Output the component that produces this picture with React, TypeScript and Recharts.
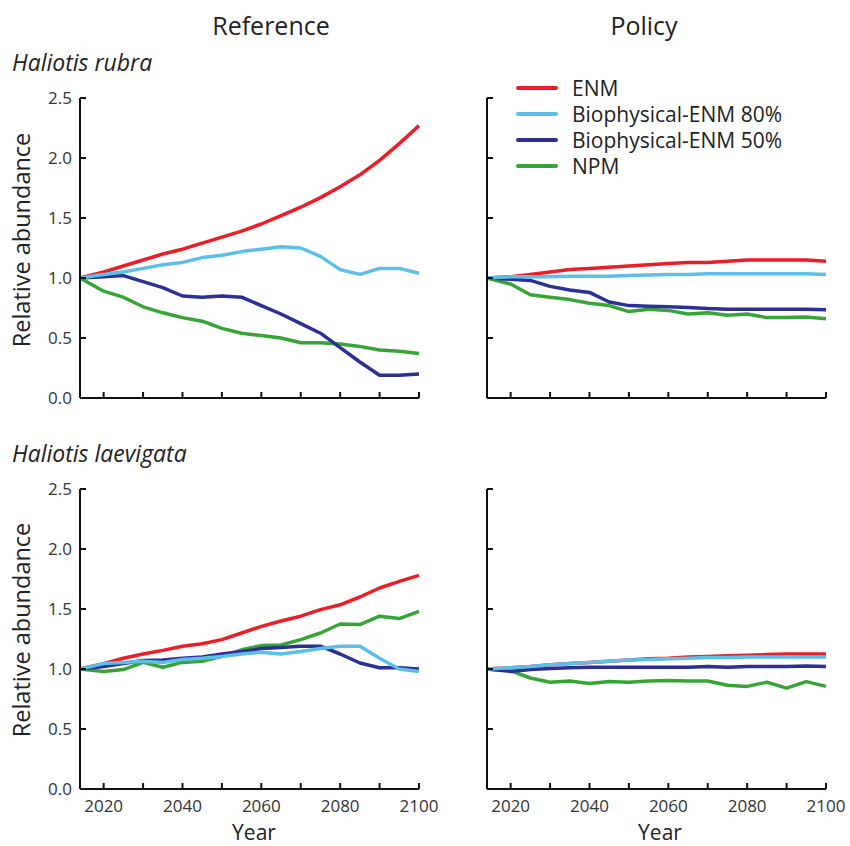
import { LineChart, Line, XAxis, YAxis, Legend } from "recharts";

const FONT = "'Open Sans', sans-serif";

const years = [2014, 2020, 2025, 2030, 2035, 2040, 2045, 2050, 2055, 2060, 2065, 2070, 2075, 2080, 2085, 2090, 2095, 2100];
const xTicks = [2020, 2030, 2040, 2050, 2060, 2070, 2080, 2090, 2100];
const yTicks = [0, 0.5, 1, 1.5, 2, 2.5];

const seriesKeys = ["enm", "bio80", "bio50", "npm"];
const seriesNames = ["ENM", "Biophysical-ENM 80%", "Biophysical-ENM 50%", "NPM"];
const seriesColors = ["#ee1c25", "#5cbfe8", "#2b2f96", "#37a535"];
// draw order: red underneath, light blue on top
const drawOrder = ["enm", "npm", "bio50", "bio80"];

// Haliotis rubra — Reference
const rubraRefEnm = [1.0, 1.05, 1.1, 1.15, 1.2, 1.24, 1.29, 1.34, 1.39, 1.45, 1.52, 1.59, 1.67, 1.76, 1.86, 1.98, 2.12, 2.27];
const rubraRefBio80 = [1.0, 1.03, 1.05, 1.08, 1.11, 1.13, 1.17, 1.19, 1.22, 1.24, 1.26, 1.25, 1.18, 1.07, 1.03, 1.08, 1.08, 1.04];
const rubraRefBio50 = [1.0, 1.01, 1.02, 0.97, 0.92, 0.85, 0.84, 0.85, 0.84, 0.77, 0.7, 0.62, 0.54, 0.42, 0.3, 0.19, 0.19, 0.2];
const rubraRefNpm = [1.0, 0.89, 0.84, 0.76, 0.71, 0.67, 0.64, 0.58, 0.54, 0.52, 0.5, 0.46, 0.46, 0.45, 0.43, 0.4, 0.39, 0.37];

// Haliotis rubra — Policy
const rubraPolEnm = [1.0, 1.01, 1.03, 1.05, 1.07, 1.08, 1.09, 1.1, 1.11, 1.12, 1.13, 1.13, 1.14, 1.15, 1.15, 1.15, 1.15, 1.14];
const rubraPolBio80 = [1.0, 1.01, 1.01, 1.01, 1.015, 1.015, 1.015, 1.02, 1.025, 1.03, 1.03, 1.035, 1.035, 1.035, 1.035, 1.035, 1.035, 1.03];
const rubraPolBio50 = [1.0, 0.99, 0.98, 0.93, 0.9, 0.88, 0.8, 0.77, 0.765, 0.76, 0.755, 0.745, 0.74, 0.74, 0.74, 0.74, 0.74, 0.735];
const rubraPolNpm = [1.0, 0.95, 0.86, 0.84, 0.82, 0.79, 0.77, 0.72, 0.74, 0.73, 0.7, 0.71, 0.69, 0.7, 0.67, 0.67, 0.675, 0.66];

// Haliotis laevigata — Reference
const laevRefEnm = [1.0, 1.045, 1.09, 1.125, 1.155, 1.19, 1.21, 1.245, 1.3, 1.355, 1.4, 1.44, 1.495, 1.535, 1.6, 1.675, 1.73, 1.78];
const laevRefBio80 = [1.0, 1.045, 1.055, 1.065, 1.055, 1.08, 1.09, 1.105, 1.125, 1.14, 1.125, 1.145, 1.17, 1.19, 1.19, 1.09, 1.0, 0.98];
const laevRefBio50 = [1.0, 1.02, 1.045, 1.07, 1.075, 1.09, 1.1, 1.125, 1.145, 1.17, 1.18, 1.19, 1.19, 1.125, 1.05, 1.01, 1.01, 1.0];
const laevRefNpm = [1.0, 0.98, 0.995, 1.055, 1.015, 1.055, 1.065, 1.105, 1.16, 1.195, 1.2, 1.245, 1.3, 1.375, 1.37, 1.44, 1.42, 1.48];

// Haliotis laevigata — Policy
const laevPolEnm = [1.0, 1.01, 1.02, 1.035, 1.045, 1.055, 1.065, 1.075, 1.085, 1.09, 1.1, 1.105, 1.11, 1.115, 1.12, 1.125, 1.125, 1.125];
const laevPolBio80 = [1.0, 1.01, 1.02, 1.035, 1.045, 1.055, 1.065, 1.075, 1.08, 1.085, 1.09, 1.095, 1.095, 1.1, 1.1, 1.1, 1.1, 1.1];
const laevPolBio50 = [1.0, 0.98, 0.995, 1.005, 1.01, 1.015, 1.015, 1.015, 1.015, 1.015, 1.015, 1.02, 1.015, 1.02, 1.02, 1.02, 1.025, 1.02];
const laevPolNpm = [1.0, 0.985, 0.925, 0.89, 0.9, 0.88, 0.895, 0.89, 0.9, 0.905, 0.9, 0.9, 0.865, 0.855, 0.89, 0.84, 0.895, 0.855];

const buildRows = (enm: number[], bio80: number[], bio50: number[], npm: number[]) =>
  years.map((year, i) => ({ year, enm: enm[i], bio80: bio80[i], bio50: bio50[i], npm: npm[i] }));

const XTick = ({ x, y, payload, showLabel }: any) => (
  <g>
    <line x1={x} x2={x} y1={y} y2={y - 6} stroke="#111" strokeWidth={2} />
    {showLabel && payload.value % 20 === 0 && (
      <text x={x} y={y + 23} textAnchor="middle" fontSize={17} fill="#333" fontFamily={FONT}>
        {payload.value}
      </text>
    )}
  </g>
);

const YTick = ({ x, y, payload, showLabel }: any) => (
  <g>
    <line x1={x} x2={x + 6} y1={y} y2={y} stroke="#111" strokeWidth={2} />
    {showLabel && (
      <text x={x - 8} y={y} dy="0.35em" textAnchor="end" fontSize={17} fill="#333" fontFamily={FONT}>
        {payload.value.toFixed(1)}
      </text>
    )}
  </g>
);

const LegendBox = ({ payload }: any) => {
  const items = seriesKeys.map((k) => payload?.find((p: any) => p.dataKey === k)).filter(Boolean);
  return (
    <div style={{ fontFamily: FONT, fontSize: 21, color: "#222", whiteSpace: "nowrap" }}>
      {items.map((p: any) => (
        <div key={p.dataKey} style={{ display: "flex", alignItems: "center", height: 26 }}>
          <span style={{ width: 42, height: 4, background: p.color, marginRight: 14, borderRadius: 2 }} />
          <span>{p.value}</span>
        </div>
      ))}
    </div>
  );
};

type PanelProps = {
  rows: any[];
  left: number;
  top: number;
  width: number;
  height: number;
  margin: { top: number; right: number; left: number; bottom: number };
  yWidth: number;
  xHeight: number;
  yLabels: boolean;
  xLabels: boolean;
  legend?: boolean;
};

const Panel = ({ rows, left, top, width, height, margin, yWidth, xHeight, yLabels, xLabels, legend }: PanelProps) => (
  <div style={{ position: "absolute", left, top }}>
    <LineChart width={width} height={height} data={rows} margin={margin}>
      <XAxis
        type="number"
        dataKey="year"
        domain={[2014, 2100]}
        ticks={xTicks}
        height={xHeight}
        tickSize={0}
        tickMargin={0}
        tickLine={false}
        axisLine={{ stroke: "#111", strokeWidth: 2 }}
        tick={(p: any) => <XTick {...p} showLabel={xLabels} />}
        interval={0}
      />
      <YAxis
        type="number"
        domain={[0, 2.5]}
        ticks={yTicks}
        width={yWidth}
        tickSize={0}
        tickMargin={0}
        tickLine={false}
        axisLine={{ stroke: "#111", strokeWidth: 2 }}
        tick={(p: any) => <YTick {...p} showLabel={yLabels} />}
        interval={0}
      />
      {legend && (
        <Legend
          layout="vertical"
          align="center"
          verticalAlign="middle"
          content={<LegendBox />}
          wrapperStyle={{ position: "absolute", left: 86, top: 35, width: "auto" }}
        />
      )}
      {drawOrder.map((k) => {
        const i = seriesKeys.indexOf(k);
        return (
          <Line
            key={k}
            type="linear"
            dataKey={k}
            name={seriesNames[i]}
            stroke={seriesColors[i]}
            strokeWidth={3.5}
            strokeLinejoin="round"
            dot={false}
            isAnimationActive={false}
          />
        );
      })}
    </LineChart>
  </div>
);

const App = () => {
  const textStyle = { fontFamily: FONT, fill: "#222" };
  return (
    <div style={{ position: "absolute", left: 0, top: 0, width: 850, height: 846, background: "#fff", overflow: "hidden" }}>
      <Panel
        rows={buildRows(rubraRefEnm, rubraRefBio80, rubraRefBio50, rubraRefNpm)}
        left={0} top={40} width={445} height={380}
        margin={{ top: 58, right: 26, left: 0, bottom: 0 }}
        yWidth={80} xHeight={22} yLabels xLabels={false}
      />
      <Panel
        rows={buildRows(laevRefEnm, laevRefBio80, laevRefBio50, laevRefNpm)}
        left={0} top={440} width={445} height={406}
        margin={{ top: 49, right: 26, left: 0, bottom: 0 }}
        yWidth={80} xHeight={57} yLabels xLabels
      />
      <Panel
        rows={buildRows(rubraPolEnm, rubraPolBio80, rubraPolBio50, rubraPolNpm)}
        left={430} top={40} width={420} height={380}
        margin={{ top: 58, right: 24, left: 0, bottom: 0 }}
        yWidth={57} xHeight={22} yLabels={false} xLabels={false} legend
      />
      <Panel
        rows={buildRows(laevPolEnm, laevPolBio80, laevPolBio50, laevPolNpm)}
        left={430} top={440} width={420} height={406}
        margin={{ top: 49, right: 24, left: 0, bottom: 0 }}
        yWidth={57} xHeight={57} yLabels={false} xLabels
      />
      <svg width={850} height={846} style={{ position: "absolute", left: 0, top: 0, pointerEvents: "none" }}>
        <text x={271} y={35} textAnchor="middle" fontSize={25} style={textStyle}>Reference</text>
        <text x={644} y={35} textAnchor="middle" fontSize={25} style={textStyle}>Policy</text>
        <text x={12} y={71} fontSize={23} fontStyle="italic" style={textStyle}>Haliotis rubra</text>
        <text x={12} y={462} fontSize={23} fontStyle="italic" style={textStyle}>Haliotis laevigata</text>
        <text transform="rotate(-90)" x={-240} y={30} textAnchor="middle" fontSize={23.5} style={textStyle}>Relative abundance</text>
        <text transform="rotate(-90)" x={-630} y={30} textAnchor="middle" fontSize={23.5} style={textStyle}>Relative abundance</text>
        <text x={254} y={840} textAnchor="middle" fontSize={21} style={textStyle}>Year</text>
        <text x={660} y={840} textAnchor="middle" fontSize={21} style={textStyle}>Year</text>
      </svg>
    </div>
  );
};

export default App;
